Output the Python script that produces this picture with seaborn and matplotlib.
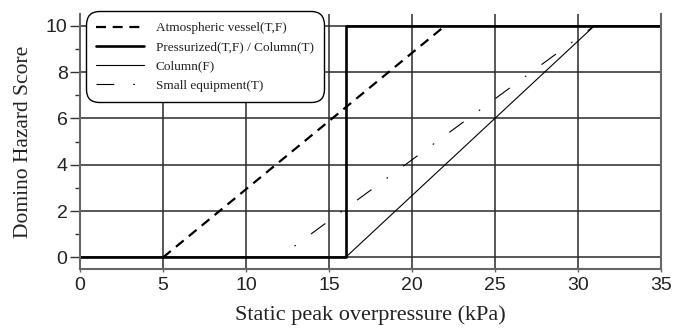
import numpy as np
import pandas as pd
import matplotlib
matplotlib.use('Agg')
import matplotlib.pyplot as plt
import seaborn as sns

# data
atm_x = [5, 22]
atm_y = [0, 10]
press_x = [0, 16, 16, 35]
press_y = [0, 0, 10, 10]
colf_x = [0, 16, 31, 35]
colf_y = [0, 0, 10, 10]
small_x = [12, 31]
small_y = [0, 10]

labels = ['Atmospheric vessel(T,F)', 'Pressurized(T,F) / Column(T)',
          'Column(F)', 'Small equipment(T)']
x_ticks = [0, 5, 10, 15, 20, 25, 30, 35]
y_ticks = [0, 2, 4, 6, 8, 10]

sns.set_theme(style='white')
plt.rcParams['font.family'] = ['Liberation Sans', 'DejaVu Sans']

fig = plt.figure(figsize=(6.73, 3.28), dpi=100)
ax = fig.add_axes([0.119, 0.180, 0.863, 0.777])

serif = ['Liberation Serif', 'DejaVu Serif']

ax.set_xlim(0, 35)
ax.set_ylim(-0.5, 10.5)
ax.set_xticks(x_ticks)
ax.set_yticks(y_ticks)
ax.set_yticks([1, 3, 5, 7, 9], minor=True)
ax.grid(True, which='major', color='#2a2a2a', linewidth=1.1)
ax.set_axisbelow(True)

df_atm = pd.DataFrame({'x': atm_x, 'y': atm_y})
df_press = pd.DataFrame({'x': press_x, 'y': press_y})
df_colf = pd.DataFrame({'x': colf_x, 'y': colf_y})
df_small = pd.DataFrame({'x': small_x, 'y': small_y})

small_dash = (16, 17, 1.5, 17)

sns.lineplot(data=df_atm, x='x', y='y', ax=ax, color='black', linewidth=1.6,
             estimator=None, sort=False, label=labels[0], dashes=(4.5, 3))
sns.lineplot(data=df_press, x='x', y='y', ax=ax, color='black', linewidth=1.9,
             estimator=None, sort=False, label=labels[1])
sns.lineplot(data=df_colf, x='x', y='y', ax=ax, color='black', linewidth=0.8,
             estimator=None, sort=False, label=labels[2])
line_small = sns.lineplot(data=df_small, x='x', y='y', ax=ax, color='black',
                          linewidth=0.8, estimator=None, sort=False,
                          label=labels[3]).lines[-1]
line_small.set_linestyle((16, small_dash))

for side in ['left', 'bottom', 'right']:
    ax.spines[side].set_visible(True)
    ax.spines[side].set_color('#666666')
    ax.spines[side].set_linewidth(1.5)
ax.spines['top'].set_visible(False)

ax.tick_params(axis='y', which='major', direction='out', length=7, width=1.0,
               color='#333333', left=True, labelsize=14, pad=2, labelcolor='#222222')
ax.tick_params(axis='y', which='minor', direction='out', length=3.5, width=1.0,
               color='#333333', left=True)
ax.tick_params(axis='x', which='major', direction='out', length=2.5, width=1.0,
               color='#666666', bottom=True, labelsize=14, pad=3.5, labelcolor='#222222')

ax.set_xlabel('Static peak overpressure (kPa)', family=serif, fontsize=16,
              color='#222222', labelpad=8)
ax.set_ylabel('Domino Hazard Score', family=serif, fontsize=15.5,
              color='#222222', labelpad=9)

leg = ax.legend(loc='upper left', bbox_to_anchor=(0.014, 1.0), borderaxespad=0,
                prop={'family': serif, 'size': 9.5}, fancybox=True, framealpha=1,
                edgecolor='black', handlelength=3.6, labelspacing=0.52,
                borderpad=0.6, handletextpad=0.9)
leg.get_frame().set_linewidth(1.0)
leg.get_frame().set_boxstyle('round', pad=0.2, rounding_size=1.0)
leg.get_lines()[3].set_linestyle((0, small_dash))
for t in leg.get_texts():
    t.set_color('#222222')

fig.savefig('out.png', dpi=100)
